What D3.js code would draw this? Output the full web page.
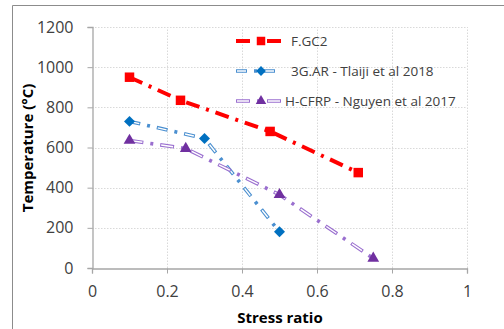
<!DOCTYPE html>
<html>
<head>
<meta charset="utf-8">
<script src="https://cdn.jsdelivr.net/npm/d3@7"></script>
<style>
  body { margin: 0; background: #fff; }
  text { font-family: "Open Sans", "Liberation Sans", sans-serif; }
  .grid line { stroke: #d9d9d9; stroke-dasharray: 1.5,1.5; }
</style>
</head>
<body>
<script>
// data
var seriesNames = ["F.GC2", "3G.AR - Tlaiji et al 2018", "H-CFRP - Nguyen et al 2017"];
var gcStress = [0.1, 0.236, 0.475, 0.71];
var gcTemp   = [950, 835, 680, 475];
var arStress = [0.1, 0.3, 0.5];
var arTemp   = [730, 645, 180];
var cfStress = [0.1, 0.25, 0.5, 0.75];
var cfTemp   = [635, 595, 365, 48];
var xTicks = [0, 0.2, 0.4, 0.6, 0.8, 1];
var yTicks = [0, 200, 400, 600, 800, 1000, 1200];

var W = 504, H = 329;
var svg = d3.select("body").append("svg").attr("width", W).attr("height", H);

// chart frame (only top and left visible)
svg.append("line").attr("x1", 12.5).attr("x2", W).attr("y1", 5.5).attr("y2", 5.5)
  .attr("stroke", "#8c8c8c").attr("stroke-width", 1);
svg.append("line").attr("x1", 12.5).attr("x2", 12.5).attr("y1", 5.5).attr("y2", H)
  .attr("stroke", "#8c8c8c").attr("stroke-width", 1);

var x = d3.scaleLinear().domain([0, 1]).range([92, 467]);
var y = d3.scaleLinear().domain([0, 1200]).range([268, 27]);

// gridlines
var grid = svg.append("g").attr("class", "grid");
grid.selectAll("line.h").data(yTicks.slice(1)).enter().append("line")
  .attr("x1", x(0)).attr("x2", x(1))
  .attr("y1", function(d) { return Math.round(y(d)) + 0.5; })
  .attr("y2", function(d) { return Math.round(y(d)) + 0.5; });
grid.selectAll("line.v").data(xTicks.slice(1)).enter().append("line")
  .attr("y1", y(0)).attr("y2", y(1200))
  .attr("x1", function(d) { return Math.round(x(d)) + 0.5; })
  .attr("x2", function(d) { return Math.round(x(d)) + 0.5; });

// axes
var xAxis = svg.append("g").attr("transform", "translate(0," + (Math.round(y(0)) + 0.5) + ")")
  .call(d3.axisBottom(x).tickValues(xTicks).tickSize(5).tickPadding(12)
    .tickFormat(function(d) { return String(d); }));
var yAxis = svg.append("g").attr("transform", "translate(" + (Math.round(x(0)) + 0.5) + ",0)")
  .call(d3.axisLeft(y).tickValues(yTicks).tickSize(5).tickPadding(14).tickFormat(d3.format("d")));
[xAxis, yAxis].forEach(function(a) {
  a.select(".domain").attr("stroke", "#a6a6a6").attr("stroke-width", 1.3);
  a.selectAll(".tick line").attr("stroke", "#a6a6a6");
  a.selectAll(".tick text").attr("fill", "#404040").style("font-size", "16px")
    .style("font-family", "'Open Sans', sans-serif");
});

// axis titles
svg.append("text").attr("x", 280).attr("y", 323).attr("text-anchor", "middle")
  .style("font-size", "15px").style("font-weight", "bold").attr("fill", "#000").text("Stress ratio");
svg.append("text").attr("transform", "translate(33,148) rotate(-90)").attr("text-anchor", "middle")
  .style("font-size", "15px").style("font-weight", "bold").attr("fill", "#000").text("Temperature (°C)");

var line = d3.line().x(function(d) { return x(d[0]); }).y(function(d) { return y(d[1]); });

function zip(a, b) { return a.map(function(v, i) { return [v, b[i]]; }); }

var series = [
  { name: seriesNames[0], pts: zip(gcStress, gcTemp), color: "#ff0000", mcolor: "#ff0000",
    width: 4, dash: [14, 7, 3, 7], double: false, marker: d3.symbolSquare, msize: 90, rot: 0 },
  { name: seriesNames[1], pts: zip(arStress, arTemp), color: "#4a8fd0", mcolor: "#0070c0",
    width: 3.6, dash: [11, 7, 3, 7], double: true, marker: d3.symbolSquare, msize: 60, rot: 45 },
  { name: seriesNames[2], pts: zip(cfStress, cfTemp), color: "#9a6fcf", mcolor: "#7030a0",
    width: 3.6, dash: [14, 7, 3, 7], double: true, marker: d3.symbolTriangle, msize: 60, rot: 0 }
];

function drawStroke(g, dStr, s) {
  g.append("path").attr("d", dStr).attr("fill", "none").attr("stroke", s.color)
    .attr("stroke-width", s.width).attr("stroke-dasharray", s.dash.join(","));
  if (s.double) {
    var inner = [s.dash[0] - 2, s.dash[1] + s.dash[2] + s.dash[3] + 2];
    g.append("path").attr("d", dStr).attr("fill", "none").attr("stroke", "#fff")
      .attr("stroke-width", 1.4).attr("stroke-dasharray", inner.join(","))
      .attr("stroke-dashoffset", -1);
  }
}

series.forEach(function(s) {
  var g = svg.append("g");
  drawStroke(g, line(s.pts), s);
  g.selectAll("path.m").data(s.pts).enter().append("path")
    .attr("d", d3.symbol().type(s.marker).size(s.msize))
    .attr("transform", function(d) {
      return "translate(" + x(d[0]) + "," + y(d[1]) + ") rotate(" + s.rot + ")";
    })
    .attr("fill", s.mcolor);
});

// legend
var legY = [41, 71, 101];
var legEnd = [288, 278, 282];
series.forEach(function(s, i) {
  var g = svg.append("g");
  var yy = legY[i];
  drawStroke(g, "M236," + yy + "L" + legEnd[i] + "," + yy, s);
  g.append("path").attr("d", d3.symbol().type(s.marker).size(s.msize * 0.8))
    .attr("transform", "translate(261," + yy + ") rotate(" + s.rot + ")").attr("fill", s.mcolor);
  g.append("text").attr("x", legEnd[i] + (i === 1 ? 13 : 3)).attr("y", yy + 5).style("font-size", "13.5px")
    .attr("fill", "#404040").text(s.name);
});
</script>
</body>
</html>
